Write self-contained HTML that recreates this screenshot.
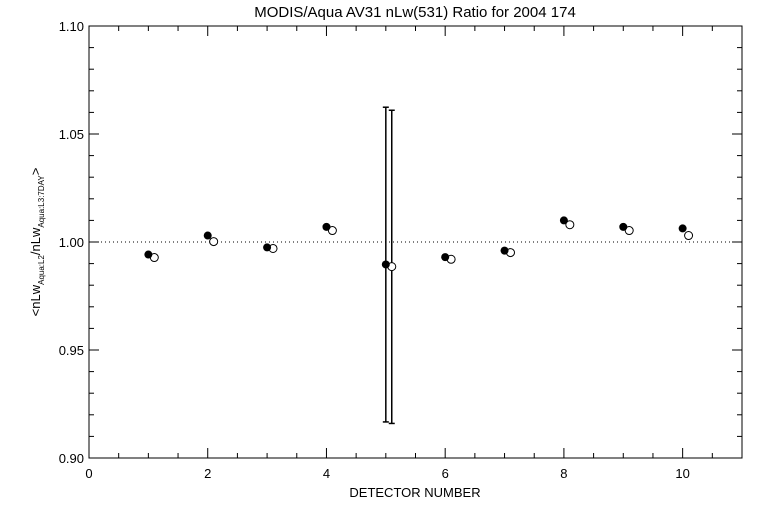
<!DOCTYPE html>
<html><head><meta charset="utf-8"><style>
body{margin:0;background:#fff}
svg{display:block;font-family:"Liberation Sans",sans-serif}
</style></head><body>
<svg id="chart" width="768" height="512" viewBox="0 0 768 512" xmlns="http://www.w3.org/2000/svg">
<rect width="768" height="512" fill="#fff"/>
<text x="415" y="17" font-size="15" text-anchor="middle">MODIS/Aqua AV31 nLw(531) Ratio for 2004 174</text>
<text x="415" y="497" font-size="13" text-anchor="middle">DETECTOR NUMBER</text>
<text transform="translate(40,242) rotate(-90)" font-size="13" text-anchor="middle">&lt;nLw<tspan font-size="8" dy="4">Aqua:L2</tspan><tspan dy="-4">/nLw</tspan><tspan font-size="8" dy="4">Aqua:L3:7DAY</tspan><tspan dy="-4">&gt;</tspan></text>
<g id="axes"></g>
<g id="marks"></g>
</svg>
<script>
const detectors=[1,2,3,4,5,6,7,8,9,10];
const filledVals=[0.9942,1.003,0.9975,1.007,0.9896,0.993,0.996,1.010,1.007,1.0063];
const openVals=[0.9928,1.0002,0.997,1.0053,0.9886,0.992,0.9951,1.008,1.0053,1.003];
const errDetector=[5];
const filledErrLo=[0.9167];const filledErrHi=[1.0624];
const openErrLo=[0.916];const openErrHi=[1.061];
const xTicks=[0,2,4,6,8,10];
const yTicks=[0.90,0.95,1.00,1.05,1.10];
const L=89,R=742,T=26,B=458,XMIN=0,XMAX=11,YMIN=0.90,YMAX=1.10;
const sx=v=>L+(v-XMIN)/(XMAX-XMIN)*(R-L);
const sy=v=>B-(v-YMIN)/(YMAX-YMIN)*(B-T);
const NS="http://www.w3.org/2000/svg";
function mk(p,tag,a){const e=document.createElementNS(NS,tag);for(const k in a)e.setAttribute(k,a[k]);p.appendChild(e);return e;}
const ax=document.getElementById('axes'),mg=document.getElementById('marks');
const frame=mk(ax,'rect',{x:L,y:T,width:R-L,height:B-T,fill:'none',stroke:'#000','stroke-width':1});


for(let v=0;v<=11.001;v+=0.5){const maj=Math.abs(v%2)<0.01;const h=maj?10:5;
 const t1=mk(ax,'line',{x1:sx(v),x2:sx(v),y1:B,y2:B-h,stroke:'#000'});
 
 
 const t2=mk(ax,'line',{x1:sx(v),x2:sx(v),y1:T,y2:T+h,stroke:'#000'});
 
 }
xTicks.forEach(v=>{const t=mk(ax,'text',{x:sx(v),y:B+20,'font-size':13,'text-anchor':'middle'});t.textContent=String(v);
 
 });
for(let i=0;i<=20;i++){const v=YMIN+i*0.01;const maj=i%5==0;const h=maj?10:5;
 const t1=mk(ax,'line',{x1:L,x2:L+h,y1:sy(v),y2:sy(v),stroke:'#000'});
 
 
 const t2=mk(ax,'line',{x1:R,x2:R-h,y1:sy(v),y2:sy(v),stroke:'#000'});
 
 }
yTicks.forEach(v=>{const t=mk(ax,'text',{x:L-5,y:sy(v)+5,'font-size':13,'text-anchor':'end'});t.textContent=v.toFixed(2);
 
 });
const ref=mk(mg,'line',{x1:L,x2:R,y1:sy(1),y2:sy(1),stroke:'#000','stroke-dasharray':'1,3'});


function bar(x,lo,hi,name){const g=mk(mg,'g',{stroke:'#000','stroke-width':1.5});
 
 
 mk(g,'line',{x1:sx(x),x2:sx(x),y1:sy(lo),y2:sy(hi)});
 mk(g,'line',{x1:sx(x)-3,x2:sx(x)+3,y1:sy(lo),y2:sy(lo)});
 mk(g,'line',{x1:sx(x)-3,x2:sx(x)+3,y1:sy(hi),y2:sy(hi)});}
errDetector.forEach((d,i)=>{bar(d,filledErrLo[i],filledErrHi[i],'error-bar-filled');bar(d+0.1,openErrLo[i],openErrHi[i],'error-bar-open');});
detectors.forEach((d,i)=>{
 const o=mk(mg,'circle',{cx:sx(d+0.1),cy:sy(openVals[i]),r:4,fill:'#fff',stroke:'#000'});
 
 
 const f=mk(mg,'circle',{cx:sx(d),cy:sy(filledVals[i]),r:4,fill:'#000'});
 
 
});
</script>
</body></html>
